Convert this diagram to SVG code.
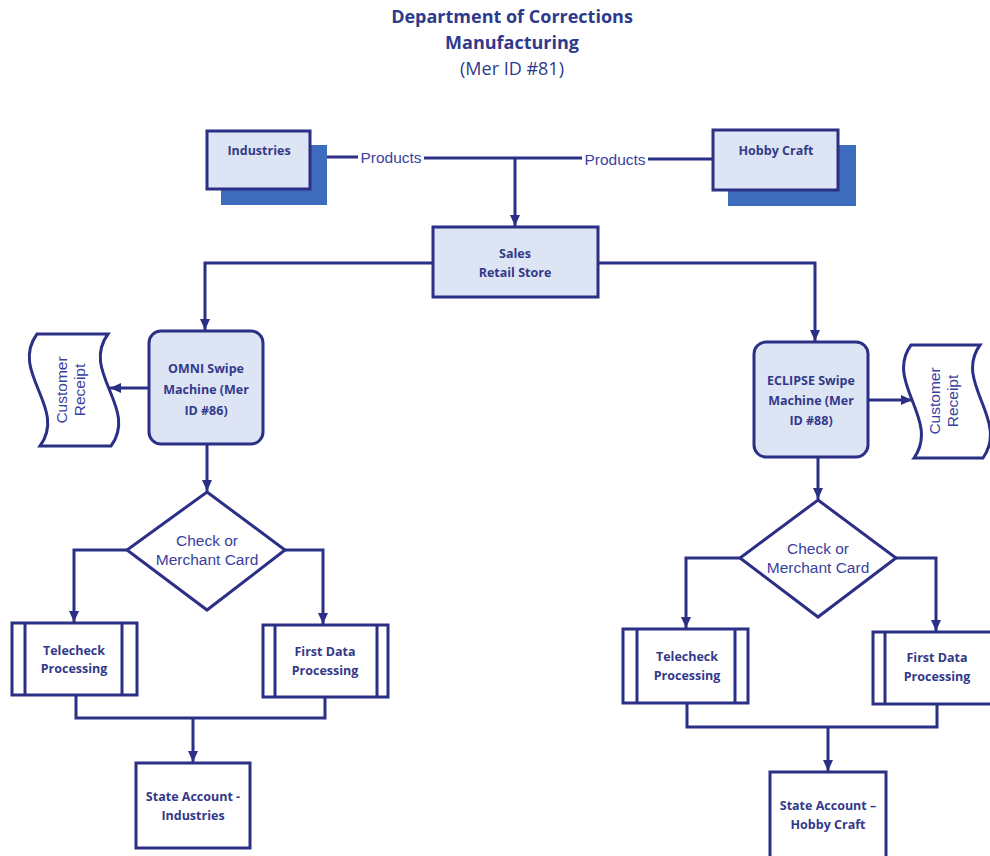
<svg xmlns="http://www.w3.org/2000/svg" width="990" height="856" viewBox="0 0 990 856">
<style>
.bx{fill:#dde5f4;stroke:#2b2f86;stroke-width:3}
.wb{fill:#ffffff;stroke:#2b2f86;stroke-width:3}
.sh{fill:#3e6cbd}
.ln{fill:none;stroke:#2b2f86;stroke-width:3}
.lb{font-family:"Open Sans","Liberation Sans",sans-serif;font-weight:bold;font-size:12.5px;fill:#33398a;text-anchor:middle}
.ar{font-family:"Liberation Sans",Arial,sans-serif;font-size:15.5px;fill:#3a40a0;text-anchor:middle}
.tt{font-family:"Open Sans","Liberation Sans",sans-serif;font-weight:bold;font-size:18px;fill:#2e3a8c;text-anchor:middle}
.tn{font-family:"Open Sans","Liberation Sans",sans-serif;font-weight:normal;font-size:18px;fill:#2e3a8c;text-anchor:middle}
</style>
<defs>
<marker id="ah" markerUnits="userSpaceOnUse" markerWidth="12" markerHeight="12" refX="11" refY="6" orient="auto">
<path d="M0,1 L11,6 L0,11 z" fill="#2b2f86"/>
</marker>
</defs>
<g id="title">
<text class="tt" x="512" y="23">Department of Corrections</text>
<text class="tt" x="512" y="49">Manufacturing</text>
<text class="tn" x="512" y="75">(Mer ID #81)</text>
</g>
<g id="connectors">
<path class="ln" d="M310,157 L358,157"/>
<path class="ln" d="M424,158 L582,158"/>
<path class="ln" d="M648,159 L713,159"/>
<path class="ln" d="M515,158 L515,226" marker-end="url(#ah)"/>
<path class="ln" d="M433,263 L205,263 L205,330" marker-end="url(#ah)"/>
<path class="ln" d="M598,263 L815,263 L815,341" marker-end="url(#ah)"/>
<path class="ln" d="M149,388 L110,388" marker-end="url(#ah)"/>
<path class="ln" d="M868,400 L912,400" marker-end="url(#ah)"/>
<path class="ln" d="M207,444 L207,491" marker-end="url(#ah)"/>
<path class="ln" d="M818,457 L818,499" marker-end="url(#ah)"/>
<path class="ln" d="M127,550 L74,550 L74,622" marker-end="url(#ah)"/>
<path class="ln" d="M285,550 L323,550 L323,624" marker-end="url(#ah)"/>
<path class="ln" d="M740,558 L686,558 L686,628" marker-end="url(#ah)"/>
<path class="ln" d="M896,558 L936,558 L936,631" marker-end="url(#ah)"/>
<path class="ln" d="M76,695 L76,718 L325,718 L325,697"/>
<path class="ln" d="M193,718 L193,762" marker-end="url(#ah)"/>
<path class="ln" d="M687,703 L687,727 L937,727 L937,704"/>
<path class="ln" d="M828,727 L828,771" marker-end="url(#ah)"/>
<text class="ar" x="391" y="163">Products</text>
<text class="ar" x="615" y="165">Products</text>
</g>
<g id="industries">
<rect class="sh" x="221" y="145" width="106" height="60"/>
<rect class="bx" x="207" y="131" width="103" height="58"/>
<text class="lb" x="259" y="155">Industries</text>
</g>
<g id="hobbycraft">
<rect class="sh" x="728" y="145" width="128" height="61"/>
<rect class="bx" x="713" y="130" width="125" height="60"/>
<text class="lb" x="776" y="155">Hobby Craft</text>
</g>
<g id="sales">
<rect class="bx" x="433" y="227" width="165" height="70"/>
<text class="lb" x="515" y="258">Sales</text>
<text class="lb" x="515" y="277">Retail Store</text>
</g>
<g id="omni">
<rect class="bx" x="149" y="331" width="114" height="113" rx="12"/>
<text class="lb" x="206" y="373">OMNI Swipe</text>
<text class="lb" x="206" y="394">Machine (Mer</text>
<text class="lb" x="206" y="415">ID #86)</text>
</g>
<g id="receipt1">
<path class="wb" d="M37,334 L108,334 C80,372 139,408 111,446 L40,446 C68,408 9,372 37,334 Z"/>
<text class="ar" transform="translate(72,390) rotate(-90)" y="-5">Customer</text>
<text class="ar" transform="translate(72,390) rotate(-90)" y="13">Receipt</text>
</g>
<g id="eclipse">
<rect class="bx" x="754" y="342" width="114" height="115" rx="12"/>
<text class="lb" x="811" y="385">ECLIPSE Swipe</text>
<text class="lb" x="811" y="405">Machine (Mer</text>
<text class="lb" x="811" y="425">ID #88)</text>
</g>
<g id="receipt2">
<path class="wb" d="M911,345 L980,345 C953,382 1010,420 983,458 L914,458 C941,420 884,382 911,345 Z"/>
<text class="ar" transform="translate(945,401) rotate(-90)" y="-5">Customer</text>
<text class="ar" transform="translate(945,401) rotate(-90)" y="13">Receipt</text>
</g>
<g id="decision1">
<path class="wb" d="M207,492 L285,550 L207,610 L127,550 Z"/>
<text class="ar" x="207" y="546">Check or</text>
<text class="ar" x="207" y="565">Merchant Card</text>
</g>
<g id="decision2">
<path class="wb" d="M818,500 L896,558 L818,617 L740,558 Z"/>
<text class="ar" x="818" y="554">Check or</text>
<text class="ar" x="818" y="573">Merchant Card</text>
</g>
<g id="telecheck1">
<rect class="wb" x="12" y="623" width="125" height="72"/>
<path class="ln" d="M25,623 V695 M122,623 V695"/>
<text class="lb" x="74" y="655">Telecheck</text>
<text class="lb" x="74" y="673">Processing</text>
</g>
<g id="firstdata1">
<rect class="wb" x="263" y="625" width="125" height="72"/>
<path class="ln" d="M275,625 V697 M377,625 V697"/>
<text class="lb" x="325" y="656">First Data</text>
<text class="lb" x="325" y="675">Processing</text>
</g>
<g id="state1">
<rect class="wb" x="136" y="763" width="114" height="85"/>
<text class="lb" x="193" y="801">State Account -</text>
<text class="lb" x="193" y="820">Industries</text>
</g>
<g id="telecheck2">
<rect class="wb" x="623" y="629" width="125" height="74"/>
<path class="ln" d="M637,629 V703 M735,629 V703"/>
<text class="lb" x="687" y="661">Telecheck</text>
<text class="lb" x="687" y="680">Processing</text>
</g>
<g id="firstdata2">
<rect class="wb" x="873" y="632" width="125" height="72"/>
<path class="ln" d="M885,632 V704"/>
<text class="lb" x="937" y="662">First Data</text>
<text class="lb" x="937" y="681">Processing</text>
</g>
<g id="state2">
<rect class="wb" x="770" y="772" width="116" height="90"/>
<text class="lb" x="828" y="810">State Account –</text>
<text class="lb" x="828" y="829">Hobby Craft</text>
</g>
</svg>
